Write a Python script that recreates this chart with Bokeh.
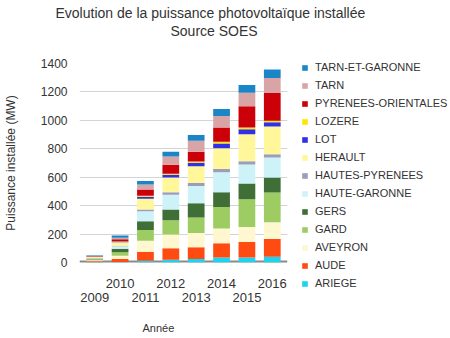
from bokeh.plotting import figure
from bokeh.models import Legend, LegendItem, LinearAxis, Range1d, FixedTicker, Span, Title
from bokeh.embed import file_html
from bokeh.resources import INLINE

years = [2009, 2010, 2011, 2012, 2013, 2014, 2015, 2016]
departements = ["ARIEGE", "AUDE", "AVEYRON", "GARD", "GERS", "HAUTE-GARONNE",
                "HAUTES-PYRENEES", "HERAULT", "LOT", "LOZERE",
                "PYRENEES-ORIENTALES", "TARN", "TARN-ET-GARONNE"]

ariege = [1, 3, 12, 20, 25, 35, 35, 40]
aude = [8, 22, 63, 80, 82, 100, 110, 125]
aveyron = [6, 22, 78, 97, 100, 105, 105, 118]
gard = [8, 25, 75, 100, 110, 150, 195, 210]
gers = [5, 24, 63, 75, 100, 105, 110, 105]
haute_garonne = [4, 18, 70, 105, 122, 140, 135, 140]
hautes_pyrenees = [1, 3, 12, 18, 20, 23, 23, 23]
herault = [6, 26, 75, 103, 118, 145, 190, 195]
lot = [1, 4, 15, 20, 25, 35, 35, 30]
lozere = [0.5, 2, 6, 7, 8, 12, 12, 12]
pyrenees_orientales = [4, 14, 45, 62, 70, 100, 150, 195]
tarn = [3, 12, 35, 58, 77, 80, 94, 105]
tarn_et_garonne = [4, 15, 25, 35, 40, 50, 55, 60]

colors = ["#1ed3f0", "#ff4a12", "#fff7cf", "#9ccc62", "#3f6e37", "#cdf3f8",
          "#9c9cbc", "#fff79a", "#3030e8", "#ffe600", "#cc0008", "#d8a4a6", "#1a86c8"]

series = [ariege, aude, aveyron, gard, gers, haute_garonne, hautes_pyrenees,
          herault, lot, lozere, pyrenees_orientales, tarn, tarn_et_garonne]

data = {"annee": years}
for name, vals in zip(departements, series):
    data[name] = vals

FONT = "Liberation Sans"
TXT = "#333333"
TICKS_Y = [0, 200, 400, 600, 800, 1000, 1200, 1400]

p = figure(frame_width=208, frame_height=199, output_backend="svg", toolbar_location=None,
           x_range=Range1d(2008.4, 2016.6), y_range=Range1d(0, 1400),
           x_axis_location=None, title=None,
           min_border_left=5, min_border_right=165, min_border_top=63, min_border_bottom=0)
p.outline_line_color = None
p.xgrid.grid_line_color = None
p.ygrid.grid_line_color = "#d4d4d4"
p.ygrid.ticker = FixedTicker(ticks=TICKS_Y)

floor = Span(location=0, dimension="width", line_color="#8a8a8a", line_width=4, level="underlay")
p.add_layout(floor)

rs = p.vbar_stack(departements, x="annee", width=0.66, color=colors, source=data,
                  line_color=None)

yax = p.yaxis[0]
yax.ticker = FixedTicker(ticks=TICKS_Y)
yax.axis_label = "Puissance installée (MW)"
yax.axis_label_text_font = FONT
yax.axis_label_text_font_style = "normal"
yax.axis_label_text_font_size = "12px"
yax.axis_label_text_color = TXT
yax.axis_label_standoff = 20
yax.major_label_text_font = FONT
yax.major_label_text_font_size = "12px"
yax.major_label_text_color = TXT
yax.major_label_standoff = 12
yax.axis_line_color = None
yax.major_tick_line_color = None
yax.minor_tick_line_color = None
yax.major_tick_out = 0
yax.major_tick_in = 0

even = {y: (str(y) if y % 2 == 0 else "") for y in years}
odd = {y: (str(y) if y % 2 == 1 else "") for y in years}

ax1 = LinearAxis(ticker=FixedTicker(ticks=years), major_label_overrides=even)
ax2 = LinearAxis(ticker=FixedTicker(ticks=years), major_label_overrides=odd)
for ax, st in ((ax1, 16), (ax2, 2)):
    ax.major_label_text_font = FONT
    ax.major_label_text_font_size = "13px"
    ax.major_label_text_color = TXT
    ax.major_label_standoff = st
    ax.axis_line_color = None
    ax.major_tick_line_color = None
    ax.minor_tick_line_color = None
    ax.major_tick_out = 0
    ax.major_tick_in = 0
p.add_layout(ax1, "below")
p.add_layout(ax2, "below")

xlabel = Title(text="Année", align="left", offset=63, text_font=FONT,
               text_font_size="11px", text_font_style="normal", text_color=TXT,
               standoff=30)
p.add_layout(xlabel, "below")

spacer = Title(text=" ", align="left", text_font=FONT, text_font_size="1px",
               standoff=22)
t2 = Title(text="Source SOES", align="left", offset=91, text_font=FONT,
           text_font_size="14px", text_font_style="normal", text_color=TXT,
           standoff=0)
t1 = Title(text="Evolution de la puissance photovoltaïque installée", align="left",
           offset=-24, text_font=FONT, text_font_size="14px",
           text_font_style="normal", text_color=TXT, standoff=0)
p.add_layout(spacer, "above")
p.add_layout(t2, "above")
p.add_layout(t1, "above")

items = [LegendItem(label=name, renderers=[r]) for name, r in zip(departements, rs)]
items = items[::-1]
legend = Legend(items=items, location=(14, -28), margin=0, padding=0,
                glyph_width=7, glyph_height=7, label_height=14, spacing=4,
                label_standoff=7, label_text_font=FONT, label_text_font_size="11px",
                label_text_color=TXT, border_line_color=None,
                background_fill_alpha=0)
p.add_layout(legend, "right")

open("out.html", "w").write(file_html(p, INLINE))
